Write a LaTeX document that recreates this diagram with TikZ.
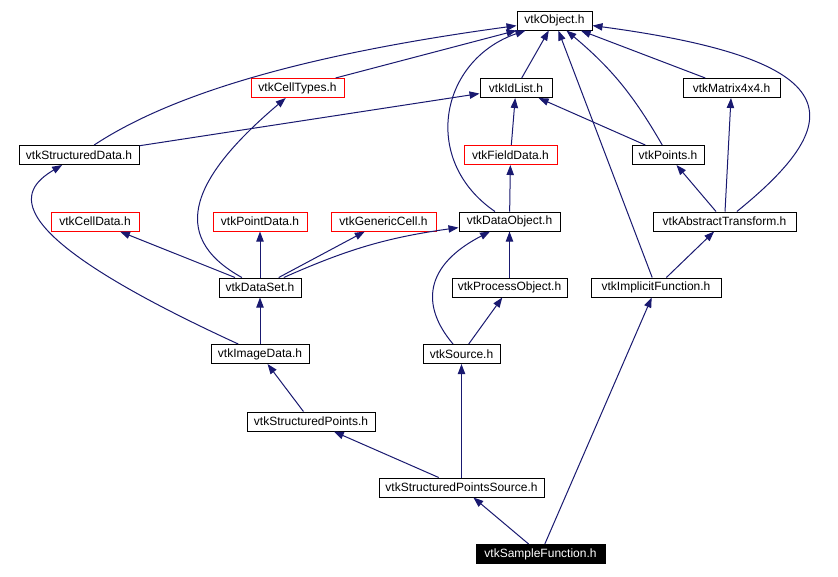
\documentclass[tikz,border=0pt]{standalone}
\usepackage{fontspec}
\setmainfont{Liberation Sans}
\usepackage{tikz}
\usetikzlibrary{arrows.meta}
\definecolor{depnavy}{RGB}{25, 25, 112}
\definecolor{hdrred}{RGB}{255, 0, 0}
\tikzset{
  hdr/.style={
    draw=black,
    line width=0.75pt,
    fill=white,
    rectangle,
    minimum height=14.25pt,
    inner xsep=2pt,
    inner ysep=0pt,
    font=\fontsize{9pt}{10pt}\selectfont
  },
  boxw/.style={minimum width=#1*0.75pt},
  missing/.style={draw=hdrred},
  current/.style={fill=black, text=white},
  dep/.style={
    -{Triangle[length=7.5pt, width=5.5pt]},
    line width=0.75pt,
    draw=depnavy
  },
  every edge/.style={draw, dep}
}

\begin{document}
\begin{tikzpicture}[x=0.75pt, y=0.75pt]
  \useasboundingbox[fill=white] (0,0) rectangle (838,-576);

  \node[hdr, boxw=75] (obj) at (554.5,-20.5) {vtkObject.h};
  \node[hdr, missing, boxw=93] (cells) at (297.5,-88) {vtkCellTypes.h};
  \node[hdr, boxw=72] (idl) at (516,-88) {vtkIdList.h};
  \node[hdr, boxw=97] (mat) at (731.5,-88) {vtkMatrix4x4.h};
  \node[hdr, boxw=120] (sdata) at (79,-155) {vtkStructuredData.h};
  \node[hdr, missing, boxw=93] (fdata) at (510.5,-155) {vtkFieldData.h};
  \node[hdr, boxw=72] (pts) at (668,-155) {vtkPoints.h};
  \node[hdr, missing, boxw=88] (cdata) at (95,-221.5) {vtkCellData.h};
  \node[hdr, missing, boxw=94] (pdata) at (260,-221.5) {vtkPointData.h};
  \node[hdr, missing, boxw=105] (gcell) at (383.5,-221.5) {vtkGenericCell.h};
  \node[hdr, boxw=101] (dobj) at (509.5,-221.5) {vtkDataObject.h};
  \node[hdr, boxw=143] (atrans) at (724.5,-221.5) {vtkAbstractTransform.h};
  \node[hdr, boxw=82] (dset) at (260,-287.5) {vtkDataSet.h};
  \node[hdr, boxw=115] (pobj) at (509.5,-287.5) {vtkProcessObject.h};
  \node[hdr, boxw=130] (ifunc) at (656,-287.5) {vtkImplicitFunction.h};
  \node[hdr, boxw=98] (img) at (260,-354) {vtkImageData.h};
  \node[hdr, boxw=77] (src) at (461.5,-354) {vtkSource.h};
  \node[hdr, boxw=128] (spts) at (311,-421.5) {vtkStructuredPoints.h};
  \node[hdr, boxw=165] (spsrc) at (461.5,-487.5) {vtkStructuredPointsSource.h};
  \node[hdr, current, boxw=129] (sfunc) at (540.5,-554) {vtkSampleFunction.h};

  \path (cells) edge (obj)
        (sdata) edge (idl)
        (idl) edge (obj)
        (ifunc) edge (obj)
        (pts) edge (idl)
        (pts) edge[out=120, in=-40] (obj)
        (mat) edge (obj)
        (atrans) edge (mat)
        (atrans) edge (pts)
        (fdata) edge (idl)
        (dobj) edge (fdata)
        (dset) edge (cdata)
        (dset) edge (pdata)
        (dset) edge (gcell)
        (dset) edge[bend left=8] (dobj)
        (img) edge (dset)
        (pobj) edge (dobj)
        (src) edge (pobj)
        (ifunc) edge (atrans)
        (spts) edge (img)
        (spsrc) edge (spts)
        (spsrc) edge (src)
        (sfunc) edge (spsrc)
        (sfunc) edge (ifunc);

  \draw[dep] (sdata) .. controls (170,-95) and (300,-55) .. (obj);
  \draw[dep] (dobj) .. controls (420,-160) and (440,-60) .. (obj);
  \draw[dep] (atrans) .. controls (850,-120) and (850,-60) .. (obj);
  \draw[dep] (dset) .. controls (165,-235) and (195,-175) .. (cells);
  \draw[dep] (img) .. controls (-10,-230) and (20,-190) .. (sdata);
  \draw[dep] (src) .. controls (420,-305) and (425,-265) .. (dobj);
\end{tikzpicture}
\end{document}
